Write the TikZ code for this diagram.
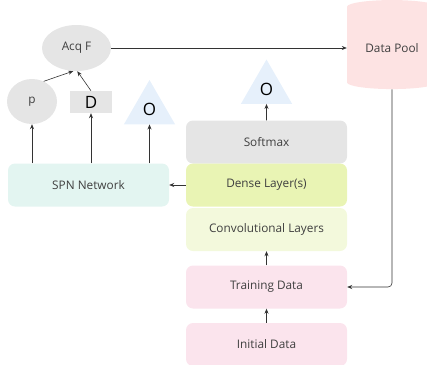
\documentclass[tikz,border=0pt]{standalone}
\usepackage{fontspec}
\setmainfont{Open Sans}
\usetikzlibrary{arrows.meta, shapes.geometric}

\definecolor{textgray}{HTML}{3F3F3F}
\definecolor{linegray}{HTML}{333333}
\definecolor{nodegray}{HTML}{E5E5E5}
\definecolor{outblue}{HTML}{E6F0FB}
\definecolor{spnmint}{HTML}{E3F5F1}
\definecolor{densegreen}{HTML}{E9F4B4}
\definecolor{convgreen}{HTML}{F3F9DC}
\definecolor{datapink}{HTML}{FBE4ED}
\definecolor{poolred}{HTML}{FDE3E3}

\begin{document}
\begin{tikzpicture}[x=1pt, y=-1pt,
		box/.style={rectangle, rounded corners=7pt, minimum width=161pt, minimum height=43pt, inner sep=0pt, font=\fontsize{11.8}{14}\selectfont, text=textgray},
		outtri/.style={regular polygon, regular polygon sides=3, minimum size=59pt, inner sep=0pt, fill=outblue, font=\fontsize{17}{19}\selectfont, text=black},
		arr/.style={-{Stealth[length=5pt,width=4pt]}, draw=linegray, line width=0.6pt}]
		\useasboundingbox (0,0) rectangle (427,364);
		% right column
		\node[box, fill=nodegray] (softmax) at (266.5,142) {Softmax};
		\node[box, fill=densegreen] (dense) at (266.5,185) {Dense Layer(s)};
		\node[box, fill=convgreen] (conv) at (266.5,229.5) {Convolutional Layers};
		\node[box, fill=datapink] (train) at (266.5,287) {Training Data};
		\node[box, fill=datapink] (init) at (266.5,344.5) {Initial Data};
		\node[outtri] (nnout) at (266.5,89) {O};
		% left part
		\node[box, fill=spnmint] (spn) at (88.5,185) {SPN Network};
		\node[ellipse, fill=nodegray, minimum width=50pt, minimum height=45pt, inner sep=0pt, font=\fontsize{11.8}{14}\selectfont, text=textgray] (p) at (32,101.5) {p};
		\node[rectangle, fill=nodegray, minimum width=42pt, minimum height=22pt, inner sep=0pt, font=\fontsize{17}{19}\selectfont] (d) at (91,102) {D};
		\node[outtri] (spnout) at (149.5,109.5) {O};
		\node[ellipse, fill=nodegray, minimum width=69pt, minimum height=46pt, inner sep=0pt, font=\fontsize{11.8}{14}\selectfont, text=textgray] (acq) at (76.5,48) {Acq F};
		\node[cylinder, shape border rotate=90, aspect=0.25, fill=poolred, minimum width=90pt, minimum height=89pt, inner sep=0pt, font=\fontsize{11.8}{14}\selectfont, text=textgray] (pool) at (392,48) {Data Pool};
		% connectors
		\draw[arr] (init) -- (train);
		\draw[arr] (train) -- (conv);
		\draw[arr] (softmax) -- (nnout.south);
		\draw[arr] (dense.west) -- (spn.east);
		\draw[arr] (p.south |- spn.north) -- (p.south);
		\draw[arr] (d.south |- spn.north) -- (d.south);
		\draw[arr] (spnout.south |- spn.north) -- (spnout.south);
		\draw[arr] (p.60) -- (acq.262);
		\draw[arr] (d.north) -- (acq.272);
		\draw[arr] (acq.east) -- (acq.east -| pool.west);
		\draw[arr, rounded corners=4pt] (pool.south) |- (train.east);
	\end{tikzpicture}
\end{document}
